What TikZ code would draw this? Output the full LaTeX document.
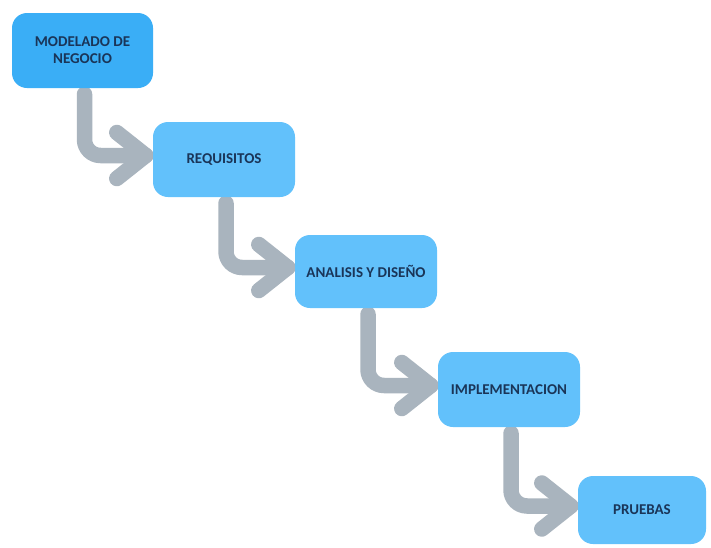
\documentclass[tikz,border=0pt]{standalone}
\usepackage{fontspec}
\setmainfont{Carlito}
\definecolor{boxA}{HTML}{3AAEF6}
\definecolor{boxB}{HTML}{62C1FB}
\definecolor{arrgray}{HTML}{A9B4BE}
\definecolor{txt}{HTML}{1A3558}
\pgfdeclarelayer{bg}
\pgfsetlayers{bg,main}
\begin{document}
\begin{tikzpicture}[x=1pt,y=-1pt,
  stage/.style={rectangle, rounded corners=15pt, fill=boxB, text=txt,
    font=\fontsize{15}{17}\selectfont\bfseries, align=center, inner sep=0pt},
  flow/.style={draw=arrgray, line width=15.5pt, line cap=round, line join=round, rounded corners=16pt},
  chev/.style={draw=arrgray, line width=15.5pt, line cap=round, line join=round}
]
\useasboundingbox (0,0) rectangle (711,547);
\node[stage, fill=boxA, minimum width=141pt, minimum height=75pt] (m) at (82.5,50.5) {MODELADO DE\\NEGOCIO};
\node[stage, minimum width=142pt, minimum height=75pt] (r) at (224,159.5) {REQUISITOS};
\node[stage, minimum width=142pt, minimum height=73pt] (a) at (366,271.5) {ANALISIS Y DISEÑO};
\node[stage, minimum width=142pt, minimum height=75pt] (i) at (509,389.5) {IMPLEMENTACION};
\node[stage, minimum width=128pt, minimum height=68pt] (p) at (642,510) {PRUEBAS};
\begin{pgfonlayer}{bg}
\fill[white] (0,0) rectangle (711,547);
\foreach \s/\t in {m/r, r/a, a/i, i/p}{
  \coordinate (tip\t) at ([xshift=-7pt,yshift=4pt]\t.west);
  \draw[flow] ([xshift=2pt,yshift=-6pt]\s.south) |- (tip\t);
  \draw[chev] ([xshift=-29pt,yshift=-23pt]tip\t) -- (tip\t) -- ([xshift=-29pt,yshift=23pt]tip\t);
}
\end{pgfonlayer}
\end{tikzpicture}
\end{document}
